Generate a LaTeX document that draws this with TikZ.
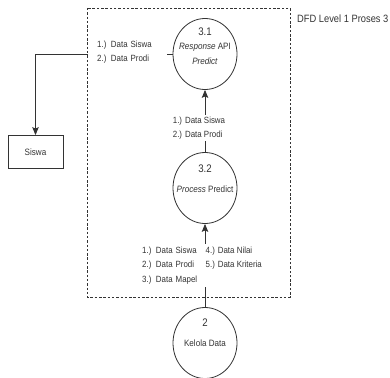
\documentclass[tikz,border=0pt]{standalone}
\usepackage{fontspec}
\setmainfont{Liberation Sans}[FakeStretch=0.88]
\usetikzlibrary{arrows.meta,shapes.geometric}
\definecolor{ink}{HTML}{333333}
\begin{document}
\begin{tikzpicture}[x=1pt,y=-1pt,
  proc/.style={draw=ink, line width=0.8pt, ellipse, minimum width=64pt, minimum height=71pt, inner sep=0pt},
  ptext/.style={text=ink, align=center, inner sep=0pt, font=\fontsize{9.2}{15}\selectfont},
  ext/.style={draw=ink, line width=0.8pt, minimum width=55pt, minimum height=33pt, inner sep=0pt, text=ink, font=\fontsize{9.2}{11}\selectfont},
  lbl/.style={text=ink, align=left, inner sep=0pt, font=\fontsize{9}{14.5}\selectfont},
  lblw/.style={lbl, fill=white},
  flow/.style={draw=ink, line width=0.8pt, -{Stealth[length=8pt,width=6.5pt,inset=1.5pt]}},
  bound/.style={draw=ink, line width=0.7pt, dash pattern=on 2.5pt off 1.8pt}
]
\useasboundingbox (0,0) rectangle (390,377);
% boundary
\draw[bound] (87,8) rectangle (290,297);
\node[text=ink, anchor=west, inner sep=0pt, font=\fontsize{10.6}{13}\selectfont] (title) at (297,19) {DFD Level 1 Proses 3};
% processes
\node[proc] (p31) at (205,54) {};
\node[ptext] (t31) at (205,46) {{\fontsize{11}{13}\selectfont 3.1}\\[-1pt]\textit{Response} API\\\textit{Predict}};
\node[proc] (p32) at (205,188) {};
\node[ptext] (t32) at (205,179) {{\fontsize{11}{13}\selectfont 3.2}\\[5pt]\textit{Process} Predict};
\node[proc] (p2) at (205,343) {};
\node[ptext] (t2) at (205,333) {{\fontsize{11}{13}\selectfont 2}\\[5pt]Kelola Data};
% external entity
\node[ext] (siswa) at (35.5,152) {Siswa};
% flows
\draw[flow] (p31.west) -| (siswa.north);
\node[lblw, anchor=west, text width=79pt, inner ysep=1pt] (l1) at (88,52) {\hspace*{9pt}1.) Data Siswa\\\hspace*{9pt}2.) Data Prodi};
\draw[flow] (p32.north) -- (p31.south);
\node[lblw, inner ysep=2pt] (l2) at (199,128) {1.) Data Siswa\\2.) Data Prodi};
\draw[flow] (p2.north) -- (p32.south);
\node[lblw, anchor=north west, text width=66pt, inner ysep=3pt] (l3) at (142,243.5) {1.) Data Siswa\\2.) Data Prodi\\3.) Data Mapel};
\node[lbl, anchor=north west, inner ysep=3pt] (l4) at (205.5,243.5) {4.) Data Nilai\\5.) Data Kriteria};
\end{tikzpicture}
\end{document}
